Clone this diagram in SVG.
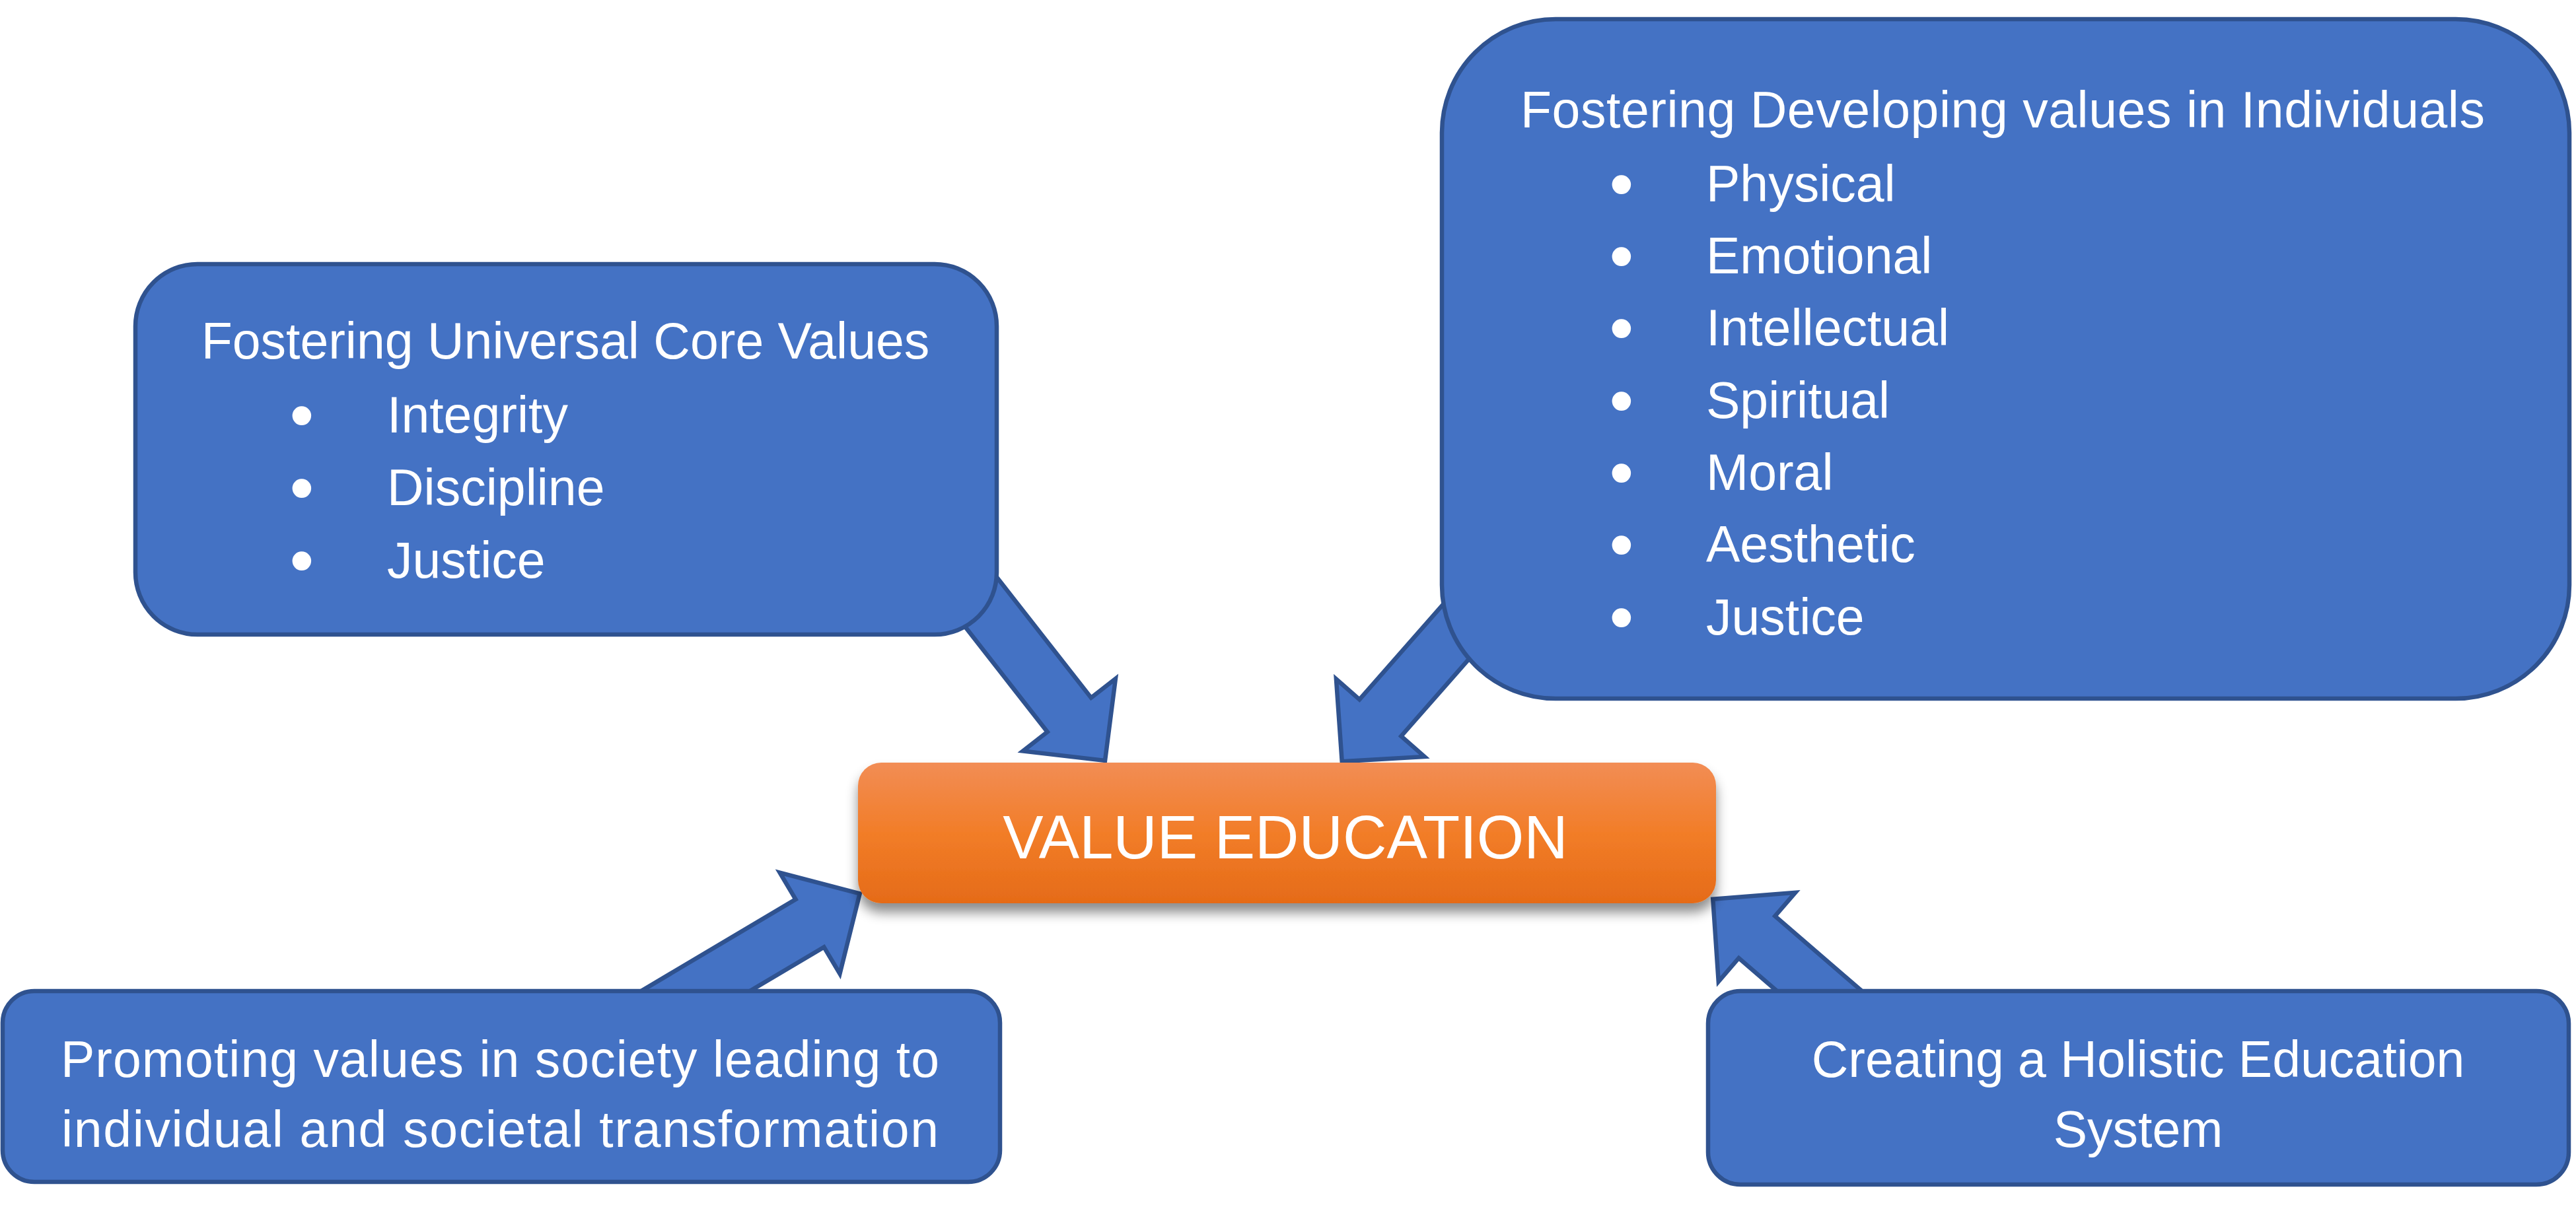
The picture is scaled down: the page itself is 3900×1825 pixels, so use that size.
<svg xmlns="http://www.w3.org/2000/svg" width="3900" height="1825" viewBox="0 0 3900 1825">
  <style>
    .box { fill: #4472C4; stroke: #2F528F; stroke-width: 6.5; }
    .arrow { fill: #4472C4; stroke: #2F528F; stroke-width: 6.5; stroke-linejoin: miter; }
    .t { font-family: "Liberation Sans", Arial, sans-serif; font-size: 77px; fill: #FFFFFF; }
    .c { text-anchor: middle; }
    .b { font-family: "Liberation Sans", Arial, sans-serif; font-size: 105px; fill: #FFFFFF; text-anchor: middle; }
    .main { font-family: "Liberation Sans", Arial, sans-serif; font-size: 92px; fill: #FFFFFF; text-anchor: middle; }
  </style>
  <defs>
    <linearGradient id="orange" x1="0" y1="0" x2="0" y2="1">
      <stop offset="0" stop-color="#F28D55"/>
      <stop offset="0.5" stop-color="#F27D28"/>
      <stop offset="1" stop-color="#E56B18"/>
    </linearGradient>
    <filter id="shadow" x="-10%" y="-30%" width="120%" height="170%">
      <feDropShadow dx="0" dy="14" stdDeviation="9" flood-color="#000000" flood-opacity="0.45"/>
    </filter>
    <path id="arr" d="M0,0 L-88,-89 L-88,-42 L-450,-42 L-450,42 L-88,42 L-88,89 Z"/>
  </defs>
  <rect width="3900" height="1825" fill="#FFFFFF"/>

  <g id="connectors">
    <use href="#arr" class="arrow" transform="translate(1673,1152) rotate(51.98)"/>
    <use href="#arr" class="arrow" transform="translate(2031.7,1153.3) rotate(131.3)"/>
    <use href="#arr" class="arrow" transform="translate(1301.7,1353.3) rotate(-30.7)"/>
    <use href="#arr" class="arrow" transform="translate(2593.3,1361.7) rotate(-139.2)"/>
  </g>

  <g id="node-core-values">
    <rect class="box" x="205" y="400" width="1304" height="561" rx="94" ry="94"/>
    <text class="t c" x="856" y="543">Fostering Universal Core Values</text>
    <text class="b" x="457" y="665">•</text>
    <text class="t" x="586" y="655">Integrity</text>
    <text class="b" x="457" y="775">•</text>
    <text class="t" x="586" y="765">Discipline</text>
    <text class="b" x="457" y="885">•</text>
    <text class="t" x="586" y="875">Justice</text>
  </g>

  <g id="node-individuals">
    <rect class="box" x="2183" y="29" width="1707" height="1029" rx="172" ry="172"/>
    <text class="t c" x="3032" y="193" textLength="1460" lengthAdjust="spacing">Fostering Developing values in Individuals</text>
    <text class="b" x="2455" y="315">•</text>
    <text class="t" x="2583" y="305">Physical</text>
    <text class="b" x="2455" y="424">•</text>
    <text class="t" x="2583" y="414">Emotional</text>
    <text class="b" x="2455" y="533">•</text>
    <text class="t" x="2583" y="523">Intellectual</text>
    <text class="b" x="2455" y="643">•</text>
    <text class="t" x="2583" y="633">Spiritual</text>
    <text class="b" x="2455" y="752">•</text>
    <text class="t" x="2583" y="742">Moral</text>
    <text class="b" x="2455" y="861">•</text>
    <text class="t" x="2583" y="851">Aesthetic</text>
    <text class="b" x="2455" y="971">•</text>
    <text class="t" x="2583" y="961">Justice</text>
  </g>

  <g id="node-value-education">
    <rect x="1299" y="1155" width="1299" height="213" rx="35" ry="35" fill="url(#orange)" filter="url(#shadow)"/>
    <text class="main" x="1946" y="1300">VALUE EDUCATION</text>
  </g>

  <g id="node-society">
    <rect class="box" x="4" y="1501" width="1510" height="289" rx="48" ry="48"/>
    <text class="t c" x="757" y="1631" textLength="1330" lengthAdjust="spacing">Promoting values in society leading to</text>
    <text class="t c" x="757" y="1737" textLength="1328" lengthAdjust="spacing">individual and societal transformation</text>
  </g>

  <g id="node-holistic">
    <rect class="box" x="2586" y="1501" width="1303" height="293" rx="49" ry="49"/>
    <text class="t c" x="3237" y="1631">Creating a Holistic Education</text>
    <text class="t c" x="3237" y="1737">System</text>
  </g>
</svg>
